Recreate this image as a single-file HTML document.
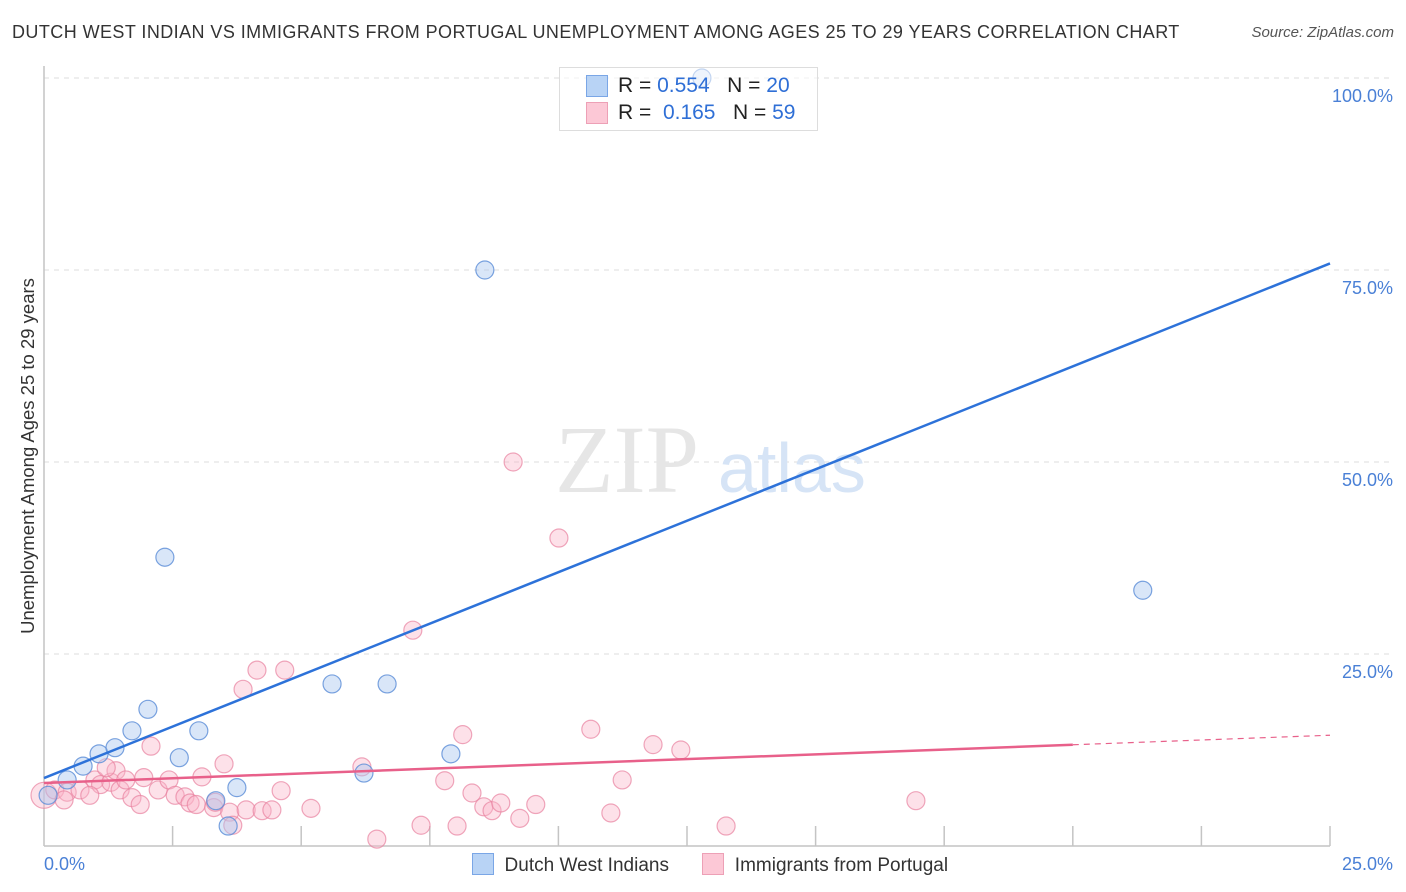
<!DOCTYPE html>
<html><head><meta charset="utf-8">
<style>
body{margin:0;background:#fff;font-family:"Liberation Sans",sans-serif;}
#wrap{position:relative;width:1406px;height:892px;overflow:hidden;}
.t{position:absolute;white-space:nowrap;}
</style></head><body>
<div id="wrap">
<div class="t" style="left:12px;top:22px;font-size:18px;letter-spacing:0.43px;color:#333;">DUTCH WEST INDIAN VS IMMIGRANTS FROM PORTUGAL UNEMPLOYMENT AMONG AGES 25 TO 29 YEARS CORRELATION CHART</div>
<div class="t" style="right:12px;top:24px;font-size:15px;color:#555;font-style:italic;">Source: ZipAtlas.com</div>
<svg id="svg" width="1406" height="892" style="position:absolute;left:0;top:0"></svg>
<div class="t" style="left:28px;top:456px;font-size:18.5px;color:#333;transform:translate(-50%,-50%) rotate(-90deg);">Unemployment Among Ages 25 to 29 years</div>
<div style="position:absolute;left:559px;top:67px;width:257px;height:62px;border:1px solid #ddd;background:rgba(255,255,255,0.55);font-size:21px;">
 <div style="position:absolute;left:26px;top:7px;width:20px;height:20px;background:#b8d3f5;border:1px solid #7aa6e6;"></div>
 <div class="t" style="left:58px;top:6px;color:#222;">R = <span style="color:#2f6fd6">0.554</span>&nbsp;&nbsp;&nbsp;N = <span style="color:#2f6fd6">20</span></div>
 <div style="position:absolute;left:26px;top:34px;width:20px;height:20px;background:#fcc8d6;border:1px solid #eda0b6;"></div>
 <div class="t" style="left:58px;top:33px;color:#222;">R = &nbsp;<span style="color:#2f6fd6">0.165</span>&nbsp;&nbsp;&nbsp;N = <span style="color:#2f6fd6">59</span></div>
</div>
<div style="position:absolute;left:472px;top:853px;font-size:19px;color:#333;">
 <span style="display:inline-block;width:20px;height:20px;background:#b8d3f5;border:1px solid #7aa6e6;vertical-align:-4px;"></span>
 <span>&nbsp;Dutch West Indians</span>
 <span style="display:inline-block;width:20px;height:20px;background:#fcc8d6;border:1px solid #eda0b6;vertical-align:-4px;margin-left:28px;"></span>
 <span>&nbsp;Immigrants from Portugal</span>
</div>
</div>
<script>
const blueX=[0.08,0.45,0.76,1.07,1.38,1.71,2.02,2.35,2.63,3.01,3.34,3.58,3.75,5.6,6.22,6.67,7.91,8.57,12.79,21.36];
const blueY=[6.6,8.6,10.4,12.0,12.8,15.0,17.8,37.6,11.5,15.0,5.9,2.6,7.6,21.1,9.5,21.1,12.0,75.0,100.0,33.3];
const pinkX=[0,0.21,0.45,0.7,0.99,1.1,1.3,1.4,1.21,1.48,1.59,1.71,1.87,1.94,2.08,2.22,2.43,2.55,2.74,2.84,3.07,2.96,3.3,3.33,3.5,3.61,3.67,3.87,3.93,4.14,4.24,4.43,4.61,4.68,5.19,6.47,6.18,7.17,7.33,7.79,8.03,8.14,8.32,8.55,8.71,8.88,9.12,9.25,9.56,10.01,10.63,11.02,11.24,11.84,12.38,13.26,16.95,0.39,0.89];
const pinkY=[6.6,7.3,7.0,7.3,8.6,8.0,8.3,9.8,10.2,7.3,8.6,6.3,5.4,8.9,13.0,7.3,8.6,6.6,6.4,5.6,9.0,5.4,5.0,5.7,10.7,4.4,2.7,20.4,4.7,22.9,4.6,4.7,7.2,22.9,4.9,0.9,10.3,28.1,2.7,8.5,2.6,14.5,6.9,5.1,4.6,5.6,50.0,3.6,5.4,40.1,15.2,4.3,8.6,13.2,12.5,2.6,5.9,6.0,6.6];
const blueTrend=[8.85,2.68]; // intercept, slope per 1% x
const pinkTrend=[8.2,0.249,20,25]; // intercept, slope, solid end, dashed end
const xTicks=[0,2.5,5,7.5,10,12.5,15,17.5,20,22.5,25];
const yTicks=[25,50,75,100];
const yLabels=["25.0%","50.0%","75.0%","100.0%"];
const X=v=>44+v/25*1286, Y=v=>846-v/100*768;
const svg=document.getElementById('svg');const NS='http://www.w3.org/2000/svg';
function mk(tag,a,name){const e=document.createElementNS(NS,tag);for(const k in a)e.setAttribute(k,a[k]);


svg.appendChild(e);return e;}
yTicks.forEach((t,i)=>{mk('line',{x1:44,x2:1394,y1:Y(t),y2:Y(t),stroke:'#ddd','stroke-dasharray':'5,5'},'gridline-y');
const tx=mk('text',{x:1393,y:Y(t)+24,'text-anchor':'end','font-size':18,fill:'#4a80d6','font-family':'Liberation Sans'},'y-tick-label');tx.textContent=yLabels[i];});
mk('line',{x1:44,x2:44,y1:66,y2:846,stroke:'#c4c4c4','stroke-width':1.5},'y-axis');
mk('line',{x1:44,x2:1330,y1:846,y2:846,stroke:'#c4c4c4','stroke-width':1.5},'x-axis');
xTicks.slice(1).forEach(t=>mk('line',{x1:X(t),x2:X(t),y1:826,y2:846,stroke:'#c4c4c4','stroke-width':1.5},'x-tick'));
let a=mk('text',{x:44,y:870,'font-size':18,fill:'#4a80d6','font-family':'Liberation Sans'},'x-tick-label-min');a.textContent='0.0%';
a=mk('text',{x:1393,y:870,'text-anchor':'end','font-size':18,fill:'#4a80d6','font-family':'Liberation Sans'},'x-tick-label-max');a.textContent='25.0%';
a=mk('text',{x:555,y:492,'font-size':96,fill:'#e6e6e6','font-family':'Liberation Serif'},'watermark-zip');a.textContent='ZIP';
a=mk('text',{x:718,y:492,'font-size':70,fill:'#d6e4f6','font-family':'Liberation Sans'},'watermark-atlas');a.textContent='atlas';
pinkX.forEach((x,i)=>mk('circle',{cx:X(x),cy:Y(pinkY[i]),r:i==0?13:9,fill:'rgba(250,180,200,0.4)',stroke:'rgba(232,130,160,0.7)','stroke-width':1.2},'pink-point'));
blueX.forEach((x,i)=>mk('circle',{cx:X(x),cy:Y(blueY[i]),r:9,fill:'rgba(170,200,240,0.45)',stroke:'rgba(90,140,215,0.8)','stroke-width':1.2},'blue-point'));
mk('line',{x1:X(0),y1:Y(blueTrend[0]),x2:X(25),y2:Y(blueTrend[0]+25*blueTrend[1]),stroke:'#2d72d9','stroke-width':2.5},'blue-trend-line');
mk('line',{x1:X(0),y1:Y(pinkTrend[0]),x2:X(pinkTrend[2]),y2:Y(pinkTrend[0]+pinkTrend[2]*pinkTrend[1]),stroke:'#e8608a','stroke-width':2.5},'pink-trend-line');
mk('line',{x1:X(pinkTrend[2]),y1:Y(pinkTrend[0]+pinkTrend[2]*pinkTrend[1]),x2:X(pinkTrend[3]),y2:Y(pinkTrend[0]+pinkTrend[3]*pinkTrend[1]),stroke:'#e8608a','stroke-width':1.2,'stroke-dasharray':'6,5'},'pink-trend-extension');
</script>
</body></html>
